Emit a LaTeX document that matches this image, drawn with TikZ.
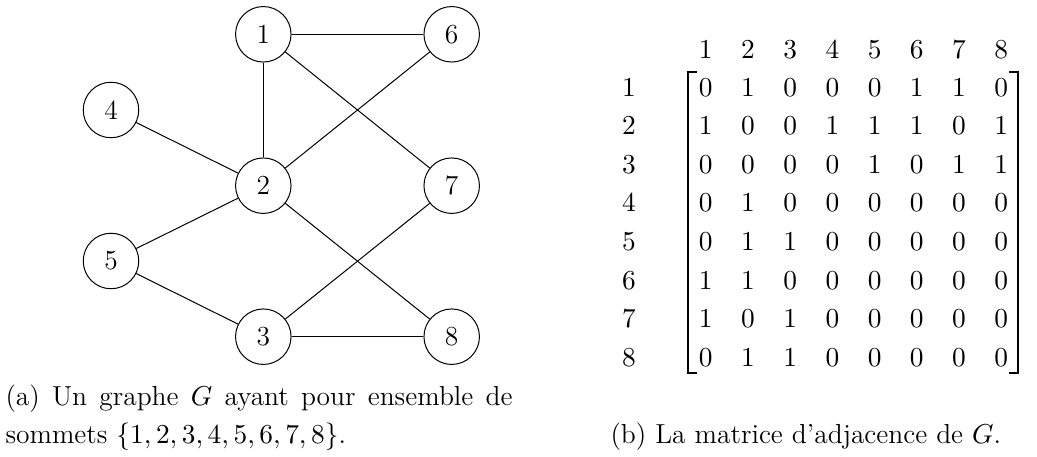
\documentclass[tikz,border=0pt]{standalone}
\usetikzlibrary{matrix}
\begin{document}
\begin{tikzpicture}[x=0.4pt,y=-0.4pt,
  vert/.style={circle,draw,line width=0.4pt,minimum size=22.2pt,inner sep=0pt,font=\fontsize{11}{13}\selectfont},
  edge/.style={line width=0.4pt},
  cell/.style={minimum width=16.88pt,minimum height=15.44pt,inner sep=0pt,font=\fontsize{11}{13}\selectfont},
  lab/.style={inner sep=0pt,font=\fontsize{11}{13}\selectfont},
  brk/.style={line width=0.7pt},
  capt/.style={inner sep=0pt,anchor=base west,font=\fontsize{11}{14.8}\selectfont}]
\useasboundingbox (0,0) rectangle (1037,457);
% graph
\node[vert] (v1) at (263.3,34.3) {1};
\node[vert] (v6) at (451.7,34.3) {6};
\node[vert] (v4) at (111,110) {4};
\node[vert] (v2) at (263.3,185.7) {2};
\node[vert] (v7) at (451.7,185.7) {7};
\node[vert] (v5) at (111,261) {5};
\node[vert] (v3) at (263.3,336.7) {3};
\node[vert] (v8) at (451.7,336.7) {8};
\draw[edge] (v1) -- (v6);
\draw[edge] (v1) -- (v2);
\draw[edge] (v1) -- (v7);
\draw[edge] (v4) -- (v2);
\draw[edge] (v2) -- (v6);
\draw[edge] (v2) -- (v5);
\draw[edge] (v2) -- (v8);
\draw[edge] (v5) -- (v3);
\draw[edge] (v3) -- (v7);
\draw[edge] (v3) -- (v8);
% matrix
\matrix (M) [matrix of math nodes, nodes={cell}, column sep=0pt, row sep=0pt, anchor=center] at (853.5,222.3) {
0 & 1 & 0 & 0 & 0 & 1 & 1 & 0 \\
1 & 0 & 0 & 1 & 1 & 1 & 0 & 1 \\
0 & 0 & 0 & 0 & 1 & 0 & 1 & 1 \\
0 & 1 & 0 & 0 & 0 & 0 & 0 & 0 \\
0 & 1 & 1 & 0 & 0 & 0 & 0 & 0 \\
1 & 1 & 0 & 0 & 0 & 0 & 0 & 0 \\
1 & 0 & 1 & 0 & 0 & 0 & 0 & 0 \\
0 & 1 & 1 & 0 & 0 & 0 & 0 & 0 \\
};
\foreach \j in {1,...,8} \node[lab] (c\j) at (M-1-\j |- 0,50) {$\j$};
\foreach \i in {1,...,8} \node[lab] (r\i) at (629,0 |- M-\i-1) {$\i$};
\draw[brk] (697,72) -- (688,72) -- (688,372.7) -- (697,372.7);
\draw[brk] (1009,72) -- (1018,72) -- (1018,372.7) -- (1009,372.7);
% captions
\node[capt,text width=202.8pt,align=justify] (capa) at (5,406) {(a) Un graphe $G$ ayant pour ensemble de\linebreak sommets $\{1,2,3,4,5,6,7,8\}$.};
\node[capt] (capb) at (610,443) {(b) La matrice d'adjacence de $G$.};
\end{tikzpicture}
\end{document}
